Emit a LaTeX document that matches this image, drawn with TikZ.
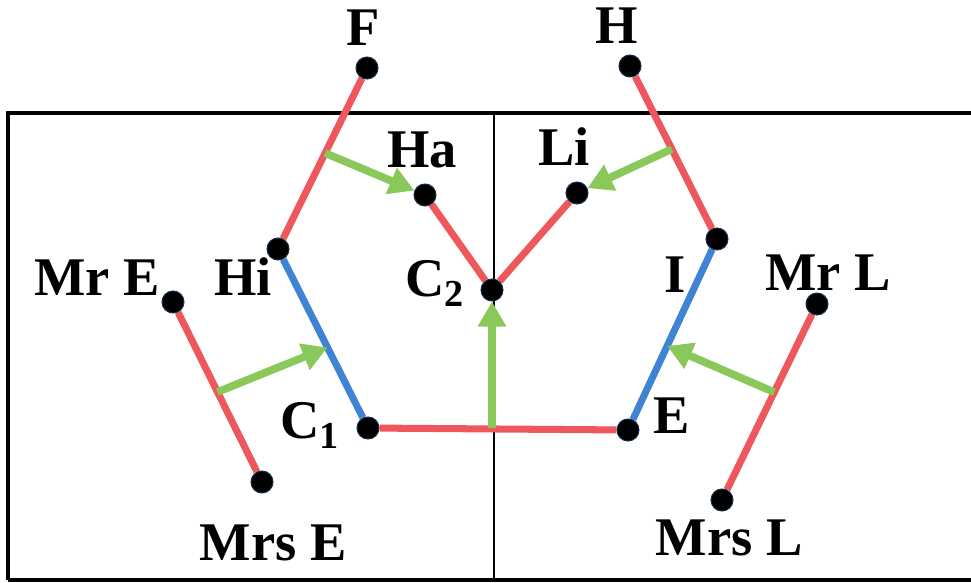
\documentclass[tikz,border=0pt]{standalone}
\usepackage{fontspec}
\setmainfont{Liberation Serif}
\usetikzlibrary{arrows.meta}
\usetikzlibrary{calc}
\usetikzlibrary{backgrounds}
\definecolor{bondred}{RGB}{238,88,92}
\definecolor{bondblue}{RGB}{62,132,210}
\definecolor{pushgreen}{RGB}{138,200,90}

\begin{document}
\begin{tikzpicture}[x=0.02cm,y=-0.02cm,
  atom/.style={circle,fill=black,draw=bondblue!35!black,line width=0.6pt,inner sep=0pt,minimum size=0.44cm},
  lbl/.style={font=\fontsize{31}{33}\selectfont\bfseries,inner sep=0pt,anchor=base},
  redbond/.style={bondred,line width=4pt},
  bluebond/.style={bondblue,line width=4pt},
  push/.style={pushgreen,line width=4.4pt,-{Triangle[length=0.5cm,width=0.54cm]}}]
\useasboundingbox (0,0) rectangle (971,582);
% atoms
\node[atom] (F) at (367,68) {};
\node[atom] (H) at (630,66) {};
\node[atom] (Ha) at (425,195) {};
\node[atom] (Li) at (577,193) {};
\node[atom] (Hi) at (278,249) {};
\node[atom] (C2) at (492,290) {};
\node[atom] (I) at (717,239) {};
\node[atom] (MrE) at (173,302) {};
\node[atom] (MrL) at (817,304) {};
\node[atom] (C1) at (368,428) {};
\node[atom] (E) at (628,430) {};
\node[atom] (MrsE) at (262,482) {};
\node[atom] (MrsL) at (722,500) {};
% labels
\node[lbl] (tF) at (363,45) {F};
\node[lbl] (tH) at (617,43) {H};
\node[lbl] (tHa) at (422,167) {Ha};
\node[lbl] (tLi) at (564,165) {Li};
\node[lbl] (tHi) at (243,295) {Hi};
\node[lbl] (tC2) at (435,296) {C\textsubscript{2}};
\node[lbl] (tI) at (675,292) {I};
\node[lbl] (tMrE) at (97,295) {Mr E};
\node[lbl] (tMrL) at (828,290) {Mr L};
\node[lbl] (tC1) at (310,438) {C\textsubscript{1}};
\node[lbl] (tE) at (672,433) {E};
\node[lbl] (tMrsE) at (273,560) {Mrs E};
\node[lbl] (tMrsL) at (729,555) {Mrs L};
\begin{scope}[on background layer]
% frame
\draw[line width=2pt] (8,580) -- (8,113) -- (971,113);
\draw[line width=2pt] (8,580) -- (971,580);
\draw[line width=1.5pt] (494,113) -- (494,582);
% bonds
\draw[redbond] (F) -- (Hi);
\draw[redbond] (H) -- (I);
\draw[redbond] (Ha) -- (C2) -- (Li);
\draw[redbond] (C1) -- (E);
\draw[redbond] (MrE) -- (MrsE);
\draw[redbond] (MrL) -- (MrsL);
\draw[bluebond] (Hi) -- (C1);
\draw[bluebond] (I) -- (E);
% arrows
\coordinate (pFHi) at ($(F)!0.47!(Hi)$);
\coordinate (pHI) at ($(H)!0.48!(I)$);
\coordinate (pMrE) at ($(MrE)!0.5!(MrsE)$);
\coordinate (pHiC1) at ($(Hi)!0.55!(C1)$);
\coordinate (pMrL) at ($(MrL)!0.45!(MrsL)$);
\coordinate (pIE) at ($(I)!0.56!(E)$);
\coordinate (pC1E) at (C2 |- C1);
\draw[push] (pFHi) -- (Ha);
\draw[push] (pHI) -- (Li);
\draw[push] (pMrE) -- (pHiC1);
\draw[push] (pMrL) -- (pIE);
\draw[push] (pC1E) -- (C2);
\end{scope}
\end{tikzpicture}
\end{document}
